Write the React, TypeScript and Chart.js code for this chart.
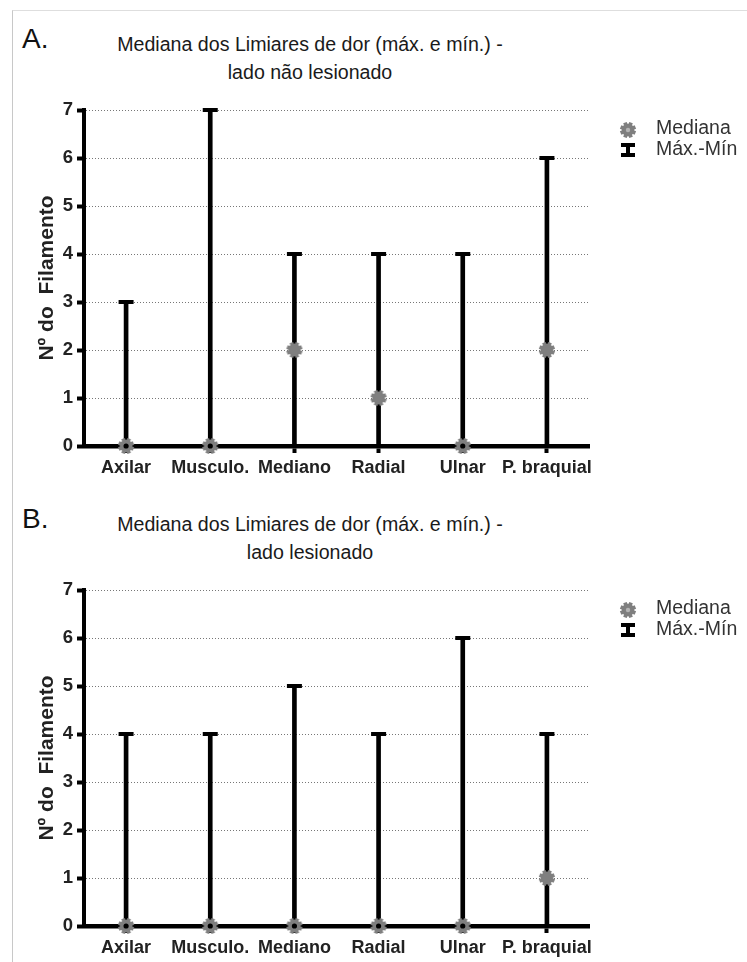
import React, { useEffect, useRef } from 'react';
import { Chart, registerables } from 'chart.js';

Chart.register(...registerables);

const FONT = '"Liberation Sans", Arial, Helvetica, sans-serif';

const categories = ['Axilar', 'Musculo.', 'Mediano', 'Radial', 'Ulnar', 'P. braquial'];

const medianA = [0, 0, 2, 1, 0, 2];
const maxA = [3, 7, 4, 4, 4, 6];
const minA = [0, 0, 0, 0, 0, 0];

const medianB = [0, 0, 0, 0, 0, 1];
const maxB = [4, 4, 5, 4, 6, 4];
const minB = [0, 0, 0, 0, 0, 0];

const legendLabels = ['Mediana', 'Máx.-Mín'];
const yAxisTitle = 'Nº do  Filamento';
const titleA = ['Mediana dos Limiares de dor (máx. e mín.) -', 'lado não lesionado'];
const titleB = ['Mediana dos Limiares de dor (máx. e mín.) -', 'lado lesionado'];

function drawGear(ctx: CanvasRenderingContext2D, x: number, y: number, hole: boolean) {
  ctx.save();
  ctx.translate(x, y);
  ctx.fillStyle = '#7f7f7f';
  ctx.beginPath();
  ctx.arc(0, 0, 6.2, 0, Math.PI * 2);
  ctx.fill();
  for (let k = 0; k < 8; k++) {
    ctx.save();
    ctx.rotate((k * Math.PI) / 4 + Math.PI / 8);
    ctx.fillRect(-1.9, -8, 3.8, 3.2);
    ctx.restore();
  }
  if (hole) {
    ctx.fillStyle = '#b5b5b5';
    ctx.beginPath();
    ctx.arc(0, 0, 2.2, 0, Math.PI * 2);
    ctx.fill();
  }
  ctx.restore();
}

function makeGear(): HTMLCanvasElement {
  const c = document.createElement('canvas');
  c.width = 18;
  c.height = 18;
  const ctx = c.getContext('2d')!;
  drawGear(ctx, 9, 9, false);
  return c;
}

const legendPlugin = {
  id: 'customLegend',
  afterDraw(chart: any) {
    const { ctx, chartArea } = chart;
    const mx = 628;
    const tx = 656;
    const y1 = chartArea.top + 19;
    const y2 = chartArea.top + 40;
    drawGear(ctx, mx, y1 + 1, true);
    ctx.save();
    ctx.fillStyle = '#000';
    ctx.fillRect(mx - 7, y2 - 7, 14, 4);
    ctx.fillRect(mx - 2, y2 - 7, 4, 14);
    ctx.fillRect(mx - 7, y2 + 3, 14, 4);
    ctx.font = `19.5px ${FONT}`;
    ctx.fillStyle = '#333';
    ctx.textBaseline = 'middle';
    ctx.textAlign = 'left';
    ctx.fillText(legendLabels[0], tx, y1);
    ctx.fillText(legendLabels[1], tx, y2);
    ctx.restore();
  },
};

type PanelProps = {
  letter: string;
  title: string[];
  median: number[];
  max: number[];
  min: number[];
  top: number;
};

function Panel({ letter, title, median, max, min, top }: PanelProps) {
  const ref = useRef<HTMLCanvasElement | null>(null);

  useEffect(() => {
    if (!ref.current) return;
    const gear = makeGear();
    const chart = new Chart(ref.current, {
      type: 'bar',
      data: {
        labels: categories,
        datasets: [
          {
            type: 'line',
            label: 'dot',
            data: median.map((m, i) => (m === min[i] ? m : null)),
            showLine: false,
            pointStyle: 'circle',
            pointRadius: 2.6,
            pointBackgroundColor: '#000',
            pointBorderWidth: 0,
            clip: false,
            order: 0,
          } as any,
          {
            type: 'line',
            label: legendLabels[0],
            data: median,
            showLine: false,
            pointStyle: gear,
            pointRadius: 9,
            clip: false,
            order: 1,
          } as any,
          {
            type: 'line',
            label: 'cap',
            data: max,
            showLine: false,
            pointStyle: 'line',
            pointRadius: 7.5,
            pointBorderWidth: 4,
            pointBorderColor: '#000',
            clip: false,
            order: 2,
          } as any,
          {
            type: 'bar',
            label: legendLabels[1],
            data: max.map((v, i) => [min[i], v]),
            backgroundColor: '#000',
            borderWidth: 0,
            barThickness: 4,
            clip: false,
            order: 3,
          } as any,
        ],
      },
      options: {
        animation: false,
        responsive: false,
        devicePixelRatio: 1,
        events: [],
        layout: { padding: { top: 110, right: 158, left: 31, bottom: 0 } },
        plugins: {
          legend: { display: false },
          title: { display: false },
          tooltip: { enabled: false },
        },
        scales: {
          x: {
            type: 'category',
            offset: true,
            grid: {
              offset: false,
              drawOnChartArea: false,
              drawTicks: true,
              tickColor: '#000',
              tickWidth: 4,
              tickLength: 7,
            },
            border: { color: '#000', width: 4.5 },
            ticks: {
              font: { family: FONT, size: 18, weight: 'bold' },
              color: '#222',
              padding: 4,
              maxRotation: 0,
              autoSkip: false,
            },
            afterFit: (s: any) => {
              s.height = 34;
            },
          },
          y: {
            min: 0,
            max: 7,
            ticks: {
              stepSize: 1,
              font: { family: FONT, size: 18.5, weight: 'bold' },
              color: '#222',
              padding: 4,
            },
            grid: {
              color: '#777',
              lineWidth: 1,
              drawTicks: true,
              tickColor: '#000',
              tickWidth: 4,
              tickLength: 7,
              tickBorderDash: [],
            },
            border: { color: '#000', width: 4, dash: [1, 2] },
            title: {
              display: true,
              text: yAxisTitle,
              font: { family: FONT, size: 21, weight: 'bold' },
              color: '#222',
              padding: { top: 4, bottom: 4 },
            },
            afterFit: (s: any) => {
              s.width = 53;
            },
          },
        },
      } as any,
      plugins: [legendPlugin],
    });
    return () => chart.destroy();
  }, []);

  return (
    <div style={{ position: 'absolute', left: 0, top, width: 747, height: 480 }}>
      <div
        style={{
          position: 'absolute',
          left: 22,
          top: 25,
          fontFamily: FONT,
          fontSize: 28,
          lineHeight: 1,
          color: '#111',
          whiteSpace: 'nowrap',
        }}
      >
        {letter}
      </div>
      <div
        style={{
          position: 'absolute',
          left: 60,
          width: 500,
          top: 30,
          textAlign: 'center',
          fontFamily: FONT,
          fontSize: 19.6,
          lineHeight: '28px',
          color: '#1a1a1a',
          whiteSpace: 'nowrap',
        }}
      >
        {title.map((t, i) => (
          <div key={i}>{t}</div>
        ))}
      </div>
      <canvas
        ref={ref}
        width={747}
        height={480}
        style={{ position: 'absolute', left: 0, top: 0, width: 747, height: 480 }}
      />
    </div>
  );
}

export default function App() {
  return (
    <div
      style={{
        position: 'absolute',
        left: 0,
        top: 0,
        width: 747,
        height: 962,
        background: '#fff',
        overflow: 'hidden',
      }}
    >
      <div
        style={{
          position: 'absolute',
          left: 12,
          top: 10,
          width: 735,
          height: 952,
          borderTop: '1px solid #dedede',
          borderLeft: '1px solid #c8c8c8',
        }}
      />
      <Panel letter="A." title={titleA} median={medianA} max={maxA} min={minA} top={0} />
      <Panel letter="B." title={titleB} median={medianB} max={maxB} min={minB} top={480} />
    </div>
  );
}
